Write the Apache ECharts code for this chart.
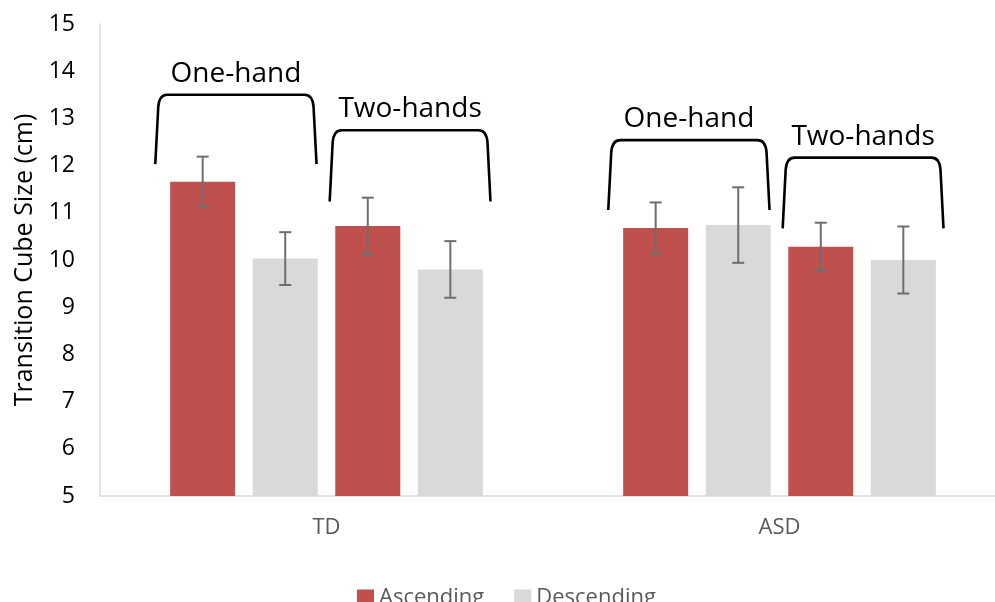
<!DOCTYPE html>
<html>
<head>
<meta charset="utf-8">
<script src="https://cdn.jsdelivr.net/npm/echarts@6/dist/echarts.min.js"></script>
<style>
  html, body { margin: 0; padding: 0; background: #fff; overflow: hidden; }
  /* the plot area runs slightly past the right edge of the picture */
  #chart { width: 1006px; height: 602px; }
</style>
</head>
<body>
<div id="chart"></div>
<script>
// data
var categories = ['TD', 'ASD'];
var ascOne = [11.66, 10.68];
var descOne = [10.03, 10.74];
var ascTwo = [10.72, 10.28];
var descTwo = [9.80, 10.00];
var ascOneErr = [0.53, 0.54];
var descOneErr = [0.56, 0.80];
var ascTwoErr = [0.60, 0.51];
var descTwoErr = [0.60, 0.71];
var yTicks = [5, 6, 7, 8, 9, 10, 11, 12, 13, 14, 15];

// bracket annotations: [category, bottom, top] per group
var groupLabels = ['One-hand', 'Two-hands'];
var oneHandBracket = [[0, 12.03, 13.50], [1, 11.06, 12.54]];
var twoHandBracket = [[0, 11.24, 12.75], [1, 10.67, 12.17]];

var red = '#C0504D';
var grey = '#D9D9D9';
var font = '"Open Sans", "Noto Sans", sans-serif';
var BAR_W = 65;
var BAR_GAP = 0.27;

var chart = echarts.init(document.getElementById('chart'), null, { renderer: 'canvas' });

var barSets = [ascOne, descOne, ascTwo, descTwo];
var errSets = [ascOneErr, descOneErr, ascTwoErr, descTwoErr];
var errData = [];
barSets.forEach(function(vals, k) {
  vals.forEach(function(v, i) {
    errData.push([i, v - errSets[k][i], v + errSets[k][i], k]);
  });
});

var bracketData = [];
oneHandBracket.forEach(function(b) { bracketData.push([b[0], b[1], b[2], 0]); });
twoHandBracket.forEach(function(b) { bracketData.push([b[0], b[1], b[2], 1]); });

function barSeries(name, vals, color) {
  return {
    name: name,
    type: 'bar',
    data: vals,
    barWidth: BAR_W,
    barGap: (BAR_GAP * 100) + '%',
    itemStyle: { color: color },
    emphasis: { disabled: true }
  };
}

chart.setOption({
  animation: false,
  textStyle: { fontFamily: font },
  grid: { left: 100, right: 0, top: 24, bottom: 106 },
  legend: {
    data: ['Ascending', 'Descending'],
    left: 352,
    top: 582,
    itemWidth: 17,
    itemHeight: 17,
    itemGap: 30,
    icon: 'rect',
    textStyle: { color: '#595959', fontSize: 22, fontFamily: font }
  },
  xAxis: {
    type: 'category',
    data: categories,
    axisLine: { lineStyle: { color: '#D9D9D9', width: 1.5 } },
    axisTick: { show: false },
    axisLabel: { color: '#595959', fontSize: 22, margin: 21 }
  },
  yAxis: {
    type: 'value',
    min: 5,
    max: 15,
    interval: 1,
    name: 'Transition Cube Size (cm)',
    nameLocation: 'middle',
    nameGap: 62,
    nameRotate: 90,
    nameTextStyle: { color: '#000', fontSize: 25 },
    axisLine: { show: true, lineStyle: { color: '#D9D9D9', width: 1.5 } },
    axisTick: { show: false },
    splitLine: { show: false },
    axisLabel: {
      color: '#000', fontSize: 23, margin: 25,
      formatter: function(v) { return yTicks.indexOf(v) >= 0 ? String(v) : ''; }
    }
  },
  series: [
    barSeries('Ascending', ascOne, red),
    barSeries('Descending', descOne, grey),
    barSeries('Ascending', ascTwo, red),
    barSeries('Descending', descTwo, grey),
    {
      type: 'custom',
      name: 'err',
      data: errData,
      encode: { x: 0, y: [1, 2] },
      clip: false,
      z: 5,
      renderItem: function(params, api) {
        var k = api.value(3);
        var off = (k - 1.5) * BAR_W * (1 + BAR_GAP);
        var lo = api.coord([api.value(0), api.value(1)]);
        var hi = api.coord([api.value(0), api.value(2)]);
        var x = lo[0] + off;
        var cap = 6;
        var st = { stroke: '#6E6E6E', lineWidth: 2 };
        return {
          type: 'group',
          children: [
            { type: 'line', shape: { x1: x, y1: lo[1], x2: x, y2: hi[1] }, style: st },
            { type: 'line', shape: { x1: x - cap, y1: lo[1], x2: x + cap, y2: lo[1] }, style: st },
            { type: 'line', shape: { x1: x - cap, y1: hi[1], x2: x + cap, y2: hi[1] }, style: st }
          ]
        };
      }
    },
    {
      type: 'custom',
      name: 'brackets',
      data: bracketData,
      encode: { x: 0, y: [1, 2] },
      clip: false,
      z: 6,
      renderItem: function(params, api) {
        var g = api.value(3);
        var band = api.size([1, 0])[0];
        var bot = api.coord([api.value(0), api.value(1)]);
        var top = api.coord([api.value(0), api.value(2)]);
        var cx = bot[0];
        var x0 = g === 0 ? cx - 0.378 * band : cx + 0.007 * band;
        var x1 = g === 0 ? cx - 0.022 * band : cx + 0.362 * band;
        var yb = bot[1], yt = top[1];
        var d = 'M' + x0 + ' ' + yb +
          ' L' + (x0 + 3) + ' ' + (yt + 12) +
          ' Q' + (x0 + 4) + ' ' + yt + ' ' + (x0 + 12) + ' ' + yt +
          ' L' + (x1 - 12) + ' ' + yt +
          ' Q' + (x1 - 4) + ' ' + yt + ' ' + (x1 - 3) + ' ' + (yt + 12) +
          ' L' + x1 + ' ' + yb;
        return {
          type: 'group',
          children: [
            { type: 'path', shape: { pathData: d }, style: { stroke: '#000', lineWidth: 2.6, fill: null } },
            {
              type: 'text',
              style: {
                text: groupLabels[g],
                x: (x0 + x1) / 2,
                y: yt - 21,
                align: 'center',
                verticalAlign: 'middle',
                fill: '#000',
                font: '28px ' + font
              }
            }
          ]
        };
      }
    }
  ]
});
window.addEventListener('resize', function() { chart.resize(); });
</script>
</body>
</html>
